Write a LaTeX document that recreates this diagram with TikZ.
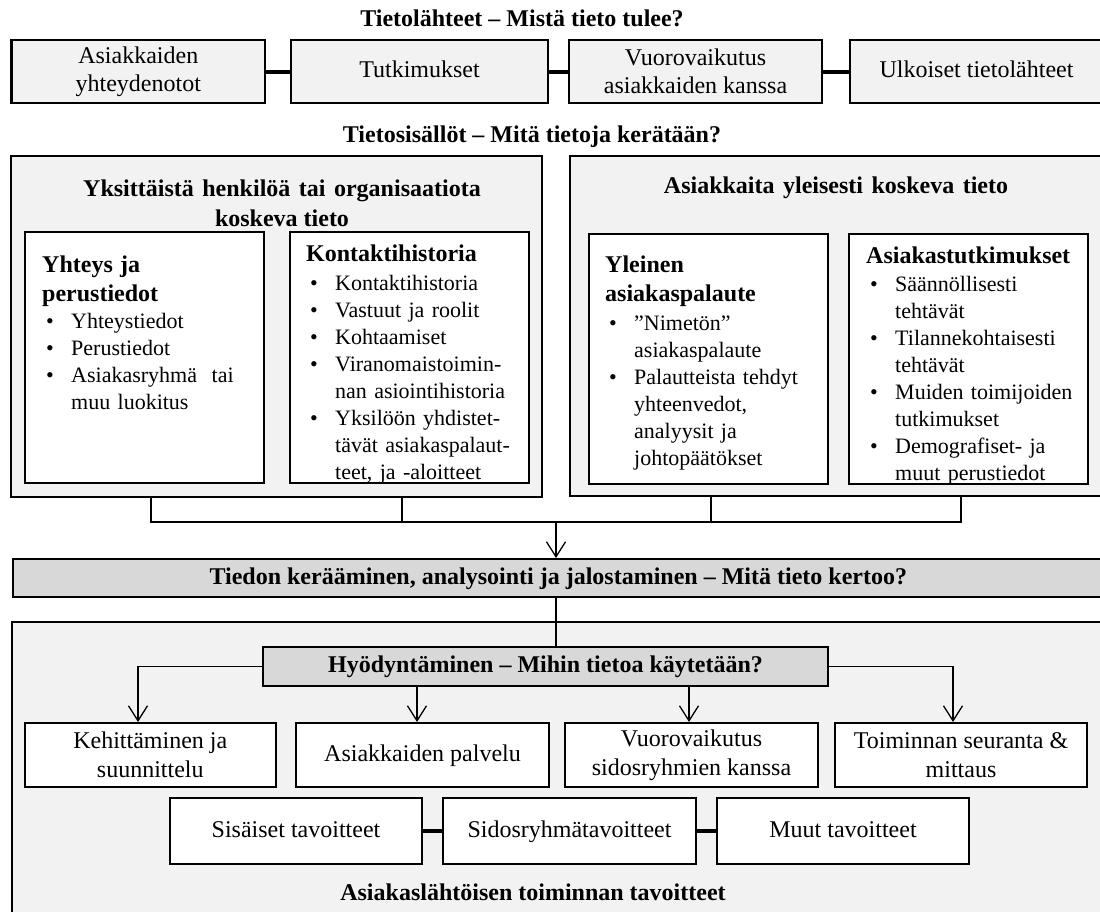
\documentclass[tikz,border=0pt]{standalone}
\usepackage{fontspec}
\setmainfont{Liberation Serif}
\usetikzlibrary{arrows.meta}
\definecolor{panel}{HTML}{F2F2F2}
\definecolor{bandgray}{HTML}{D8D8D8}
% bullet item and continuation line inside the lists
\newcommand\itm{\hspace*{4pt}\makebox[25pt][l]{•}}
\newcommand\cnt{\hspace*{29pt}}
\newcommand\hd[1]{{\bfseries\fontsize{24}{27}\selectfont #1}}
% slightly widened word gap for the group titles
\newcommand\wgap{\hspace{8.5pt}}
\tikzset{
  card/.style={draw, line width=2pt, inner sep=0pt, align=center,
    font=\fontsize{24}{29}\selectfont},
  srcbox/.style={card, fill=panel, line width=2.4pt, font=\fontsize{24}{28}\selectfont},
  grpbox/.style={draw, fill=panel, line width=2pt, inner sep=0pt},
  subbox/.style={draw, fill=white, line width=2pt, inner sep=0pt},
  bandbox/.style={draw, fill=bandgray, line width=2pt, inner sep=0pt,
    text height=17pt, text depth=5pt,
    font=\fontsize{24}{29}\selectfont\bfseries},
  goalbox/.style={card, fill=white},
  oneline/.style={text height=17pt, text depth=5pt},
  headline/.style={font=\fontsize{24}{30}\selectfont\bfseries, align=center, inner sep=0pt},
  listtext/.style={anchor=north west, inner sep=0pt, text width=#1, align=left,
    font=\fontsize{22}{27}\selectfont},
  link/.style={line width=1.3pt},
  tie/.style={line width=4pt},
  arr/.style={link, -{Straight Barb[length=15pt,width=19pt,line width=1.3pt]}},
}
\begin{document}
\begin{tikzpicture}[x=1pt,y=-1pt]
\useasboundingbox (0,0) rectangle (1100,911);
\clip (0,0) rectangle (1100,911);

% ---- sources of information
\node[headline] (srctitle) at (522,18) {Tietolähteet – Mistä tieto tulee?};
\node[srcbox, minimum width=253.4, minimum height=63] (s1) at (138.3,71.5) {Asiakkaiden\\yhteydenotot};
\node[srcbox, oneline, minimum width=257, minimum height=63] (s2) at (419.5,71.5) {Tutkimukset};
\node[srcbox, minimum width=253, minimum height=63] (s3) at (695.5,71.5) {Vuorovaikutus\\asiakkaiden kanssa};
\node[srcbox, oneline, minimum width=253, minimum height=63] (s4) at (976.5,71.5) {Ulkoiset tietolähteet};
\draw[tie] (s1.east) -- (s2.west);
\draw[tie] (s2.east) -- (s3.west);
\draw[tie] (s3.east) -- (s4.west);

% ---- contents of information
\node[headline] (contitle) at (532,137) {Tietosisällöt – Mitä tietoja kerätään?};
\node[grpbox, minimum width=531.3, minimum height=341] (L) at (276.35,326.5) {};
\node[grpbox, minimum width=534, minimum height=340] (R) at (837,326) {};
\node[headline] (Ltitle) at (282,203) {Yksittäistä\wgap henkilöä\wgap tai\wgap organisaatiota\\koskeva tieto};
\node[headline] (Rtitle) at (836,188) {Asiakkaita\wgap yleisesti\wgap koskeva\wgap tieto};

\node[subbox, minimum width=239, minimum height=251] (A) at (144.5,357.5) {};
\node[subbox, minimum width=239, minimum height=251] (B) at (409.5,357.5) {};
\node[subbox, minimum width=239, minimum height=250] (C) at (708.5,359) {};
\node[subbox, minimum width=239, minimum height=250] (D) at (968.5,359) {};

\node[listtext=215] (Atext) at (42,256) {\hd{Yhteys ja}\\[2pt]
  \hd{perustiedot}\\
  \itm Yhteystiedot\\
  \itm Perustiedot\\
  \itm Asiakasryhmä\ \ tai\\
  \cnt muu luokitus};
\node[listtext=222] (Btext) at (306,245) {\hd{Kontaktihistoria}\\[2pt]
  \itm Kontaktihistoria\\
  \itm Vastuut ja roolit\\
  \itm Kohtaamiset\\
  \itm Viranomaistoimin-\\
  \cnt nan asiointihistoria\\
  \itm Yksilöön yhdistet-\\
  \cnt tävät asiakaspalaut-\\
  \cnt teet, ja -aloitteet};
\node[listtext=220] (Ctext) at (605,256) {\hd{Yleinen}\\[2pt]
  \hd{asiakaspalaute}\\[2pt]
  \itm ”Nimetön”\\
  \cnt asiakaspalaute\\
  \itm Palautteista tehdyt\\
  \cnt yhteenvedot,\\
  \cnt analyysit ja\\
  \cnt johtopäätökset};
\node[listtext=222] (Dtext) at (866,247) {\hd{Asiakastutkimukset}\\[1pt]
  \itm Säännöllisesti\\
  \cnt tehtävät\\
  \itm Tilannekohtaisesti\\
  \cnt tehtävät\\
  \itm Muiden toimijoiden\\
  \cnt tutkimukset\\
  \itm Demografiset- ja\\
  \cnt muut perustiedot};

% ---- collecting bracket
\coordinate (b1) at (151,522);
\coordinate (b2) at (402,522);
\coordinate (b3) at (711,522);
\coordinate (b4) at (961,522);
\coordinate (hub) at (556,522);
\draw[link] (b1 |- L.south) -- (b1) -- (b4) -- (b4 |- R.south);
\draw[link] (b2 |- L.south) -- (b2);
\draw[link] (b3 |- R.south) -- (b3);

% ---- analysis band
\node[bandbox, minimum width=1091.4, minimum height=38] (ana) at (558.3,578) {Tiedon kerääminen, analysointi ja jalostaminen – Mitä tieto kertoo?};
\draw[arr] (hub) -- (hub |- ana.north);

% ---- utilisation and goals
\node[grpbox, minimum width=1092, minimum height=303] (U) at (558,773.5) {};
\node[bandbox, minimum width=565, minimum height=39] (hy) at (545.5,666.5) {Hyödyntäminen – Mihin tietoa käytetään?};
\draw[link] (hub |- ana.south) -- (hub |- hy.north);

\node[goalbox, minimum width=251.5, minimum height=64] (K) at (150.25,755) {Kehittäminen ja\\suunnittelu};
\node[goalbox, oneline, minimum width=253, minimum height=64] (P) at (422.5,755) {Asiakkaiden palvelu};
\node[goalbox, minimum width=253, minimum height=64] (V) at (691.5,755) {Vuorovaikutus\\sidosryhmien kanssa};
\node[goalbox, minimum width=252, minimum height=64] (T) at (961,755) {Toiminnan seuranta \&\\mittaus};

\coordinate (k1) at (138,0);
\coordinate (k2) at (417,0);
\coordinate (k3) at (689,0);
\coordinate (k4) at (953,0);
\draw[arr] (hy.west) -| (k1 |- K.north);
\draw[arr] (k2 |- hy.south) -- (k2 |- P.north);
\draw[arr] (k3 |- hy.south) -- (k3 |- V.north);
\draw[arr] (hy.east) -| (k4 |- T.north);

\node[goalbox, oneline, minimum width=252, minimum height=66] (G1) at (296,831) {Sisäiset tavoitteet};
\node[goalbox, oneline, minimum width=253, minimum height=66] (G2) at (569.5,831) {Sidosryhmätavoitteet};
\node[goalbox, oneline, minimum width=252, minimum height=66] (G3) at (843,831) {Muut tavoitteet};
\draw[tie] (G1.east) -- (G2.west);
\draw[tie] (G2.east) -- (G3.west);

\node[headline] (goaltitle) at (533,892) {Asiakaslähtöisen toiminnan tavoitteet};
\end{tikzpicture}
\end{document}
